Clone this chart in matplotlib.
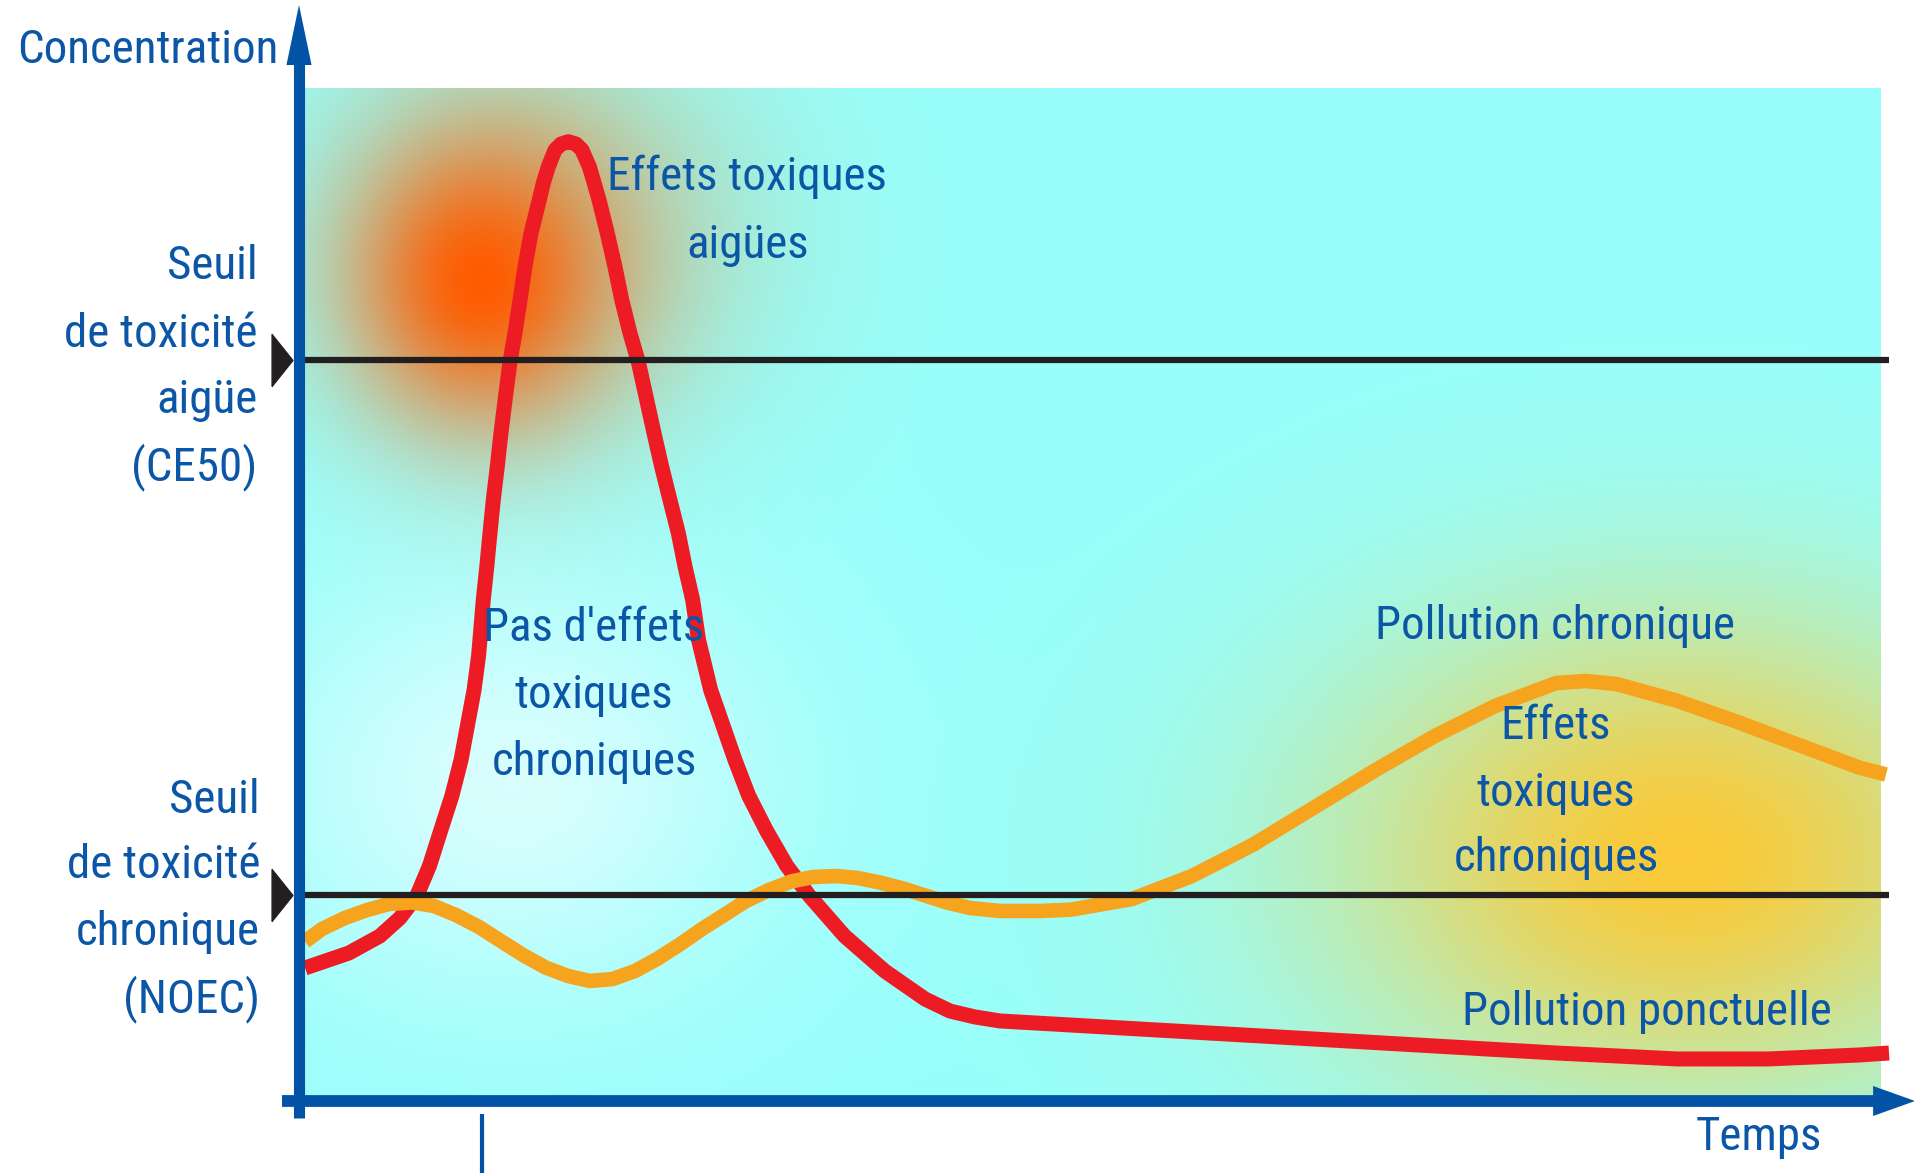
import numpy as np
import matplotlib
matplotlib.use('Agg')
import matplotlib.pyplot as plt
import matplotlib.font_manager as fm

# --- data (time, concentration), arbitrary units ---
# pollution ponctuelle (red): sharp peak then long tail
t_ponct = [0.38, 3.14, 5.09, 6.35, 7.42, 8.21, 8.91, 9.62, 10.19, 11.01, 11.30, 11.59,
           11.81, 12.01, 12.22, 12.47, 12.70, 12.96, 13.27, 13.58, 13.90, 14.21, 14.59,
           15.11, 15.36, 15.68, 16.10, 16.48, 16.94, 17.42, 17.80, 18.26, 18.57, 18.87,
           19.39, 19.87, 20.30, 20.82, 21.34, 21.87, 22.33, 22.81, 23.33, 23.86, 24.28,
           24.76, 25.13, 25.89, 27.42, 28.28, 29.40, 30.67, 32.08, 34.31, 36.84, 39.37,
           40.94, 42.50, 44.09, 48.55, 56.16, 63.81, 71.43, 79.06, 86.67, 92.39, 98.11, 100.0]
c_ponct = [13.13, 14.61, 16.29, 18.07, 20.29, 23.23, 26.69, 30.15, 33.66, 40.57, 44.03, 49.46,
           52.74, 56.04, 59.33, 62.62, 65.91, 69.20, 72.98, 75.78, 79.07, 82.36, 85.66,
           88.94, 90.59, 92.23, 93.88, 94.47, 94.70, 94.47, 93.88, 92.23, 90.59, 88.94,
           85.66, 82.36, 79.07, 75.78, 72.98, 69.20, 65.91, 62.62, 59.33, 56.04, 52.74,
           49.46, 45.51, 40.57, 33.66, 30.15, 26.69, 23.23, 20.29, 16.29, 12.83, 10.07,
           8.88, 8.30, 7.90, 7.50, 6.81, 6.12, 5.43, 4.74, 4.15, 4.15, 4.54, 4.74]

# pollution chronique (orange): low oscillations then slow rise
t_chron = [0.38, 1.45, 2.89, 4.28, 5.66, 7.11, 8.49, 9.87, 11.32, 12.70, 14.09, 15.50,
           16.92, 18.30, 19.72, 21.13, 22.52, 23.93, 25.35, 26.73, 28.11, 29.56, 30.94,
           32.33, 33.77, 35.16, 36.54, 37.99, 39.37, 40.75, 42.20, 44.09, 46.67, 48.55,
           52.39, 56.16, 60.00, 63.81, 67.61, 71.43, 75.22, 79.06, 80.94, 82.86, 86.67,
           90.48, 94.28, 98.11, 99.81]
c_chron = [15.75, 16.98, 18.07, 18.85, 19.45, 19.60, 19.25, 18.36, 17.18, 15.79, 14.41, 13.18,
           12.34, 11.85, 12.04, 12.83, 14.02, 15.44, 16.98, 18.36, 19.74, 20.83, 21.67,
           22.11, 22.21, 22.01, 21.56, 20.98, 20.29, 19.60, 19.05, 18.76, 18.76, 18.89,
           19.94, 22.21, 25.30, 28.94, 32.58, 36.03, 38.99, 41.26, 41.46, 41.16, 39.51,
           37.41, 35.17, 32.92, 32.23]

seuil_aigu = 73.15      # CE50
seuil_chronique = 20.34  # NOEC
t_event = 11.5           # tick on time axis

# --- pick a narrow font if there is one ---
FONT, STRETCH = 'Liberation Sans', 'normal'
ttf = fm.fontManager.ttflist
names = {f.name for f in ttf}
for cand in ['Liberation Sans Narrow', 'Roboto Condensed', 'Open Sans Condensed']:
    if cand in names:
        FONT = cand
        break
else:
    if any(f.name == 'DejaVu Sans' and f.stretch == 'condensed' for f in ttf):
        FONT, STRETCH = 'DejaVu Sans', 'condensed'

BLUE_TXT = '#0b56a6'
BLUE_AX = '#0253a5'

fig = plt.figure(figsize=(19.15, 11.73), dpi=100)
ax = fig.add_axes([0, 0, 1, 1])
ax.set_xlim(-18.805, 101.635)
ax.set_ylim(-7.108, 108.687)
ax.axis('off')

# font size: match width of "Concentration" (~260 px)
tmp = fig.text(0, 0, 'Concentration', family=FONT, fontstretch=STRETCH, fontsize=10)
fig.canvas.draw()
FS = 10 * 260 / tmp.get_window_extent().width
tmp.remove()

# --- background: cyan with soft glows ---
x0, x1, y0, y1 = 0.4, 99.5, 0.6, 100.0
px0, py0 = ax.transData.transform((x0, y0))
px1, py1 = ax.transData.transform((x1, y1))
nx, ny = int(px1 - px0), int(py1 - py0)
X, Y = np.meshgrid(np.linspace(px0, px1, nx), np.linspace(py0, py1, ny))
img = np.ones((ny, nx, 3)) * np.array([0.60, 1.0, 0.985])


def glow(center, sx, sy, amp, color):
    global img
    cx, cy = ax.transData.transform(center)
    a = amp * np.exp(-0.5 * (((X - cx) / sx) ** 2 + ((Y - cy) / sy) ** 2))
    img = img * (1 - a[..., None]) + np.array(color) * a[..., None]


glow((13.5, 31.5), 180, 150, 0.75, (0.93, 1.0, 1.0))
glow((87.0, 24.0), 240, 170, 0.95, (1.0, 0.78, 0.18))
glow((15.2, 86.0), 150, 140, 0.35, (0.95, 0.45, 0.05))
glow((11.5, 81.0), 90, 100, 1.0, (1.0, 0.36, 0.0))
ax.imshow(img, extent=(x0, x1, y0, y1), origin='lower', aspect='auto',
          interpolation='bilinear', zorder=0)

# --- curves ---
ax.plot(t_ponct, c_ponct, color='#ed1c24', lw=10.8, solid_joinstyle='round',
        solid_capstyle='butt', zorder=3)
ax.plot(t_chron, c_chron, color='#f6a31e', lw=10.5, solid_joinstyle='round',
        solid_capstyle='butt', zorder=4)

# thresholds
for s in (seuil_aigu, seuil_chronique):
    ax.plot([0.4, 100.0], [s, s], color='#231f20', lw=4.5, solid_capstyle='butt', zorder=5)
    ax.plot([-1.04], [s], marker=[(-0.4, -1), (0.4, 0), (-0.4, 1), (-0.4, -1)],
            markersize=37.4, color='#231f20', zorder=6)

# axes with arrows
ax.plot([0, 0], [-1.68, 103], color=BLUE_AX, lw=8, solid_capstyle='butt', zorder=7)
ax.fill([-0.79, 0.79, 0], [102.27, 102.27, 108.2], color=BLUE_AX, zorder=7, lw=0)
ax.plot([-1.07, 99.5], [0, 0], color=BLUE_AX, lw=8.5, solid_capstyle='butt', zorder=7)
ax.fill([99.0, 99.0, 101.64], [-1.48, 1.48, 0], color=BLUE_AX, zorder=7, lw=0)
ax.plot([t_event, t_event], [-1.3, -7.2], color=BLUE_AX, lw=3, solid_capstyle='butt', zorder=7)

# --- labels ---
kw = dict(family=FONT, fontstretch=STRETCH, fontsize=FS, color=BLUE_TXT,
          va='baseline', zorder=10)

ax.text(-1.32, 102.5, 'Concentration', ha='right', **kw)
ax.text(91.8, -4.84, 'Temps', ha='center', **kw)

for txt, c in zip(['Seuil', 'de toxicité', 'aigüe', '(CE50)'], [81.1, 74.4, 67.9, 61.3]):
    ax.text(-2.62, c, txt, ha='right', **kw)
for txt, c in zip(['Seuil', 'de toxicité', 'chronique', '(NOEC)'], [28.4, 22.0, 15.4, 8.8]):
    ax.text(-2.45, c, txt, ha='right', **kw)

for txt, c in zip(['Effets toxiques', 'aigües'], [89.9, 83.2]):
    ax.text(28.2, c, txt, ha='center', **kw)
for txt, c in zip(["Pas d'effets", 'toxiques', 'chroniques'], [45.4, 38.8, 32.2]):
    ax.text(18.55, c, txt, ha='center', **kw)
ax.text(79.0, 45.6, 'Pollution chronique', ha='center', **kw)
for txt, c in zip(['Effets', 'toxiques', 'chroniques'], [35.7, 29.1, 22.7]):
    ax.text(79.06, c, txt, ha='center', **kw)
ax.text(84.8, 7.5, 'Pollution ponctuelle', ha='center', **kw)

fig.savefig('out.png', dpi=100)
